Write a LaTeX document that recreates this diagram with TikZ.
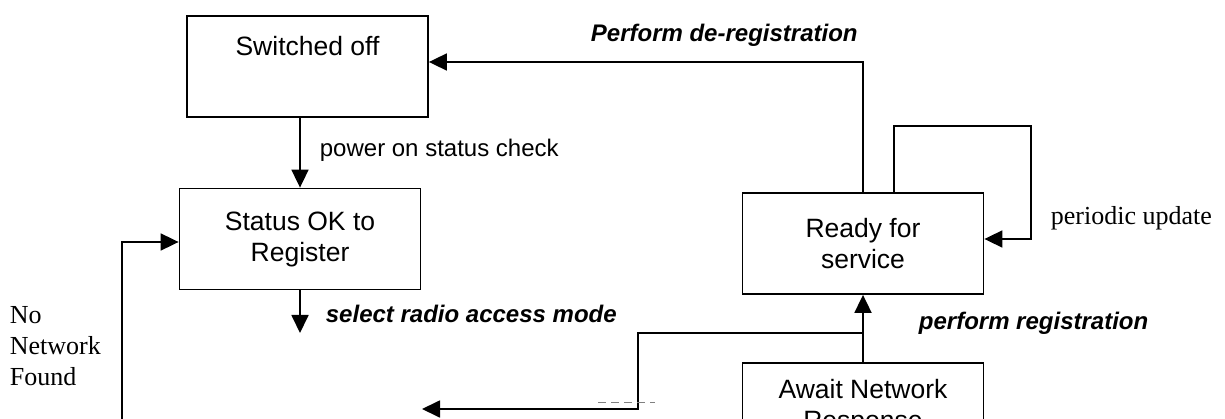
\documentclass[tikz,border=0pt]{standalone}
\usepackage{fontspec}
\setmainfont{Liberation Serif}
\newfontfamily\arialf{Liberation Sans}
\usetikzlibrary{arrows.meta}
\begin{document}
\begin{tikzpicture}[x=1pt,y=-1pt,
  line width=1.8pt,
  arr/.style={-{Triangle[length=18pt,width=17pt]}},
  stbox/.style={draw, rectangle, minimum width=241pt, minimum height=101pt, inner sep=0pt, align=center, font=\arialf\fontsize{26.5}{31}\selectfont},
  lbl/.style={anchor=west, inner sep=0pt, font=\arialf\fontsize{24}{28}\selectfont},
  blbl/.style={anchor=west, inner sep=0pt, font=\arialf\fontsize{24}{28}\selectfont\bfseries\itshape},
  tlbl/.style={anchor=west, inner sep=0pt, align=left, font=\fontsize{26}{31}\selectfont}]
\useasboundingbox (0,0) rectangle (1225,419);
\clip (0,0) rectangle (1225,419);

\node[stbox] (sw) at (307.5,66.5) {Switched off\\\strut};
\node[stbox] (st) at (300,239) {Status OK to\\Register};
\node[stbox] (rd) at (863,243.5) {Ready for\\service};
\node[stbox, minimum height=88pt] (aw) at (863,407) {Await Network\\Response};

\draw[arr] (st.north |- sw.south) -- (st.north);
\node[lbl] (pw) at (319,150) {power on status check};

\coordinate (selend) at (300,333);
\draw[arr] (st.south) -- (selend);
\node[blbl] (sel) at (325,314) {select radio access mode};

\coordinate (nnb) at (122,430);
\draw[arr] (nnb) |- ([yshift=-3pt]st.west);
\node[tlbl] (nnf) at (9,346) {No\\Network\\Found};

\draw[arr] (rd.north) |- ([yshift=4.5pt]sw.east);
\node[blbl] (pdr) at (590,35) {Perform de-registration};

\coordinate (lpa) at (894,126);
\coordinate (lpb) at (1031,126);
\draw[arr] (rd.north -| lpa) -- (lpa) -- (lpb) |- ([yshift=4.5pt]rd.east);
\node[tlbl] (pu) at (1050,218) {periodic update};

\draw[arr] (aw.north) -- (rd.south);
\node[blbl] (preg) at (918,323) {perform registration};

\coordinate (br) at (aw.north |- 0,333);
\coordinate (bk) at (638,333);
\coordinate (bend) at (422,409);
\draw[arr] (br) -- (bk) |- (bend);

\draw[gray, line width=1pt, dash pattern=on 8pt off 5pt] (598,402) -- (655,402);
\end{tikzpicture}
\end{document}
